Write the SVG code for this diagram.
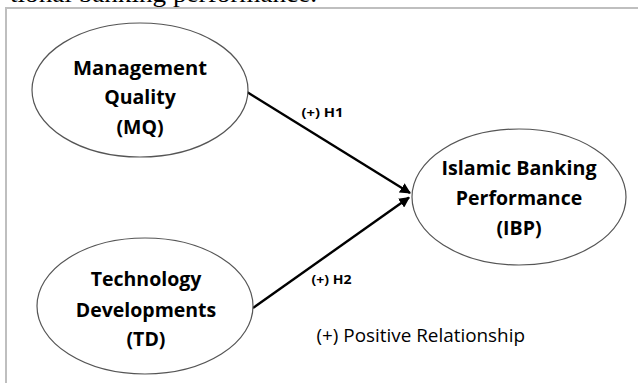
<svg xmlns="http://www.w3.org/2000/svg" width="638" height="383" viewBox="0 0 638 383">
<style>
.frame{fill:none;stroke:#bfbfbf;stroke-width:2}
.node{fill:#fff;stroke:#555;stroke-width:1.2}
.nt{font-family:"Open Sans","Noto Sans",sans-serif;font-weight:bold;font-size:19.5px;fill:#000;text-anchor:middle}
.edge{stroke:#000;stroke-width:2.4;fill:none;marker-end:url(#ah)}
.el{font-family:"Open Sans","Noto Sans",sans-serif;font-weight:bold;font-size:12.5px;fill:#000}
.note{font-family:"Open Sans","Noto Sans",sans-serif;font-size:18.5px;fill:#000}
.top{font-family:"Liberation Serif",serif;font-size:26px;fill:#000}
</style>
<defs>
<marker id="ah" viewBox="0 0 10 10" refX="9" refY="5" markerWidth="4.5" markerHeight="4.5" orient="auto" markerUnits="strokeWidth">
<path d="M0,0 L10,5 L0,10 Z" fill="#000"/>
</marker>
</defs>
<rect width="638" height="383" fill="#fff"/>
<text class="top" x="10" y="1.5" textLength="307" lengthAdjust="spacingAndGlyphs">tional banking performance.</text>
<path class="frame" d="M6,383 V8 H638"/>
<g id="connectors">
<line class="edge" x1="247" y1="92" x2="410" y2="193"/>
<line class="edge" x1="253" y1="308" x2="409" y2="197.5"/>
<text class="el" x="301.5" y="116.5" textLength="42" lengthAdjust="spacingAndGlyphs">(+) H1</text>
<text class="el" x="311.5" y="284" textLength="40" lengthAdjust="spacingAndGlyphs">(+) H2</text>
</g>
<g id="MQ">
<ellipse class="node" cx="140" cy="90" rx="108" ry="67"/>
<text class="nt" x="140" y="74.5" textLength="134" lengthAdjust="spacingAndGlyphs">Management</text>
<text class="nt" x="140" y="104">Quality</text>
<text class="nt" x="140" y="134">(MQ)</text>
</g>
<g id="TD">
<ellipse class="node" cx="145" cy="306" rx="108" ry="68"/>
<text class="nt" x="146" y="286">Technology</text>
<text class="nt" x="146" y="316.5">Developments</text>
<text class="nt" x="146" y="346">(TD)</text>
</g>
<g id="IBP">
<ellipse class="node" cx="519" cy="197" rx="107" ry="68"/>
<text class="nt" x="519" y="175" textLength="155" lengthAdjust="spacingAndGlyphs">Islamic Banking</text>
<text class="nt" x="519" y="205">Performance</text>
<text class="nt" x="519" y="235">(IBP)</text>
</g>
<g id="legend">
<text class="note" x="316.5" y="341.5" textLength="208.5" lengthAdjust="spacingAndGlyphs">(+) Positive Relationship</text>
</g>
</svg>
